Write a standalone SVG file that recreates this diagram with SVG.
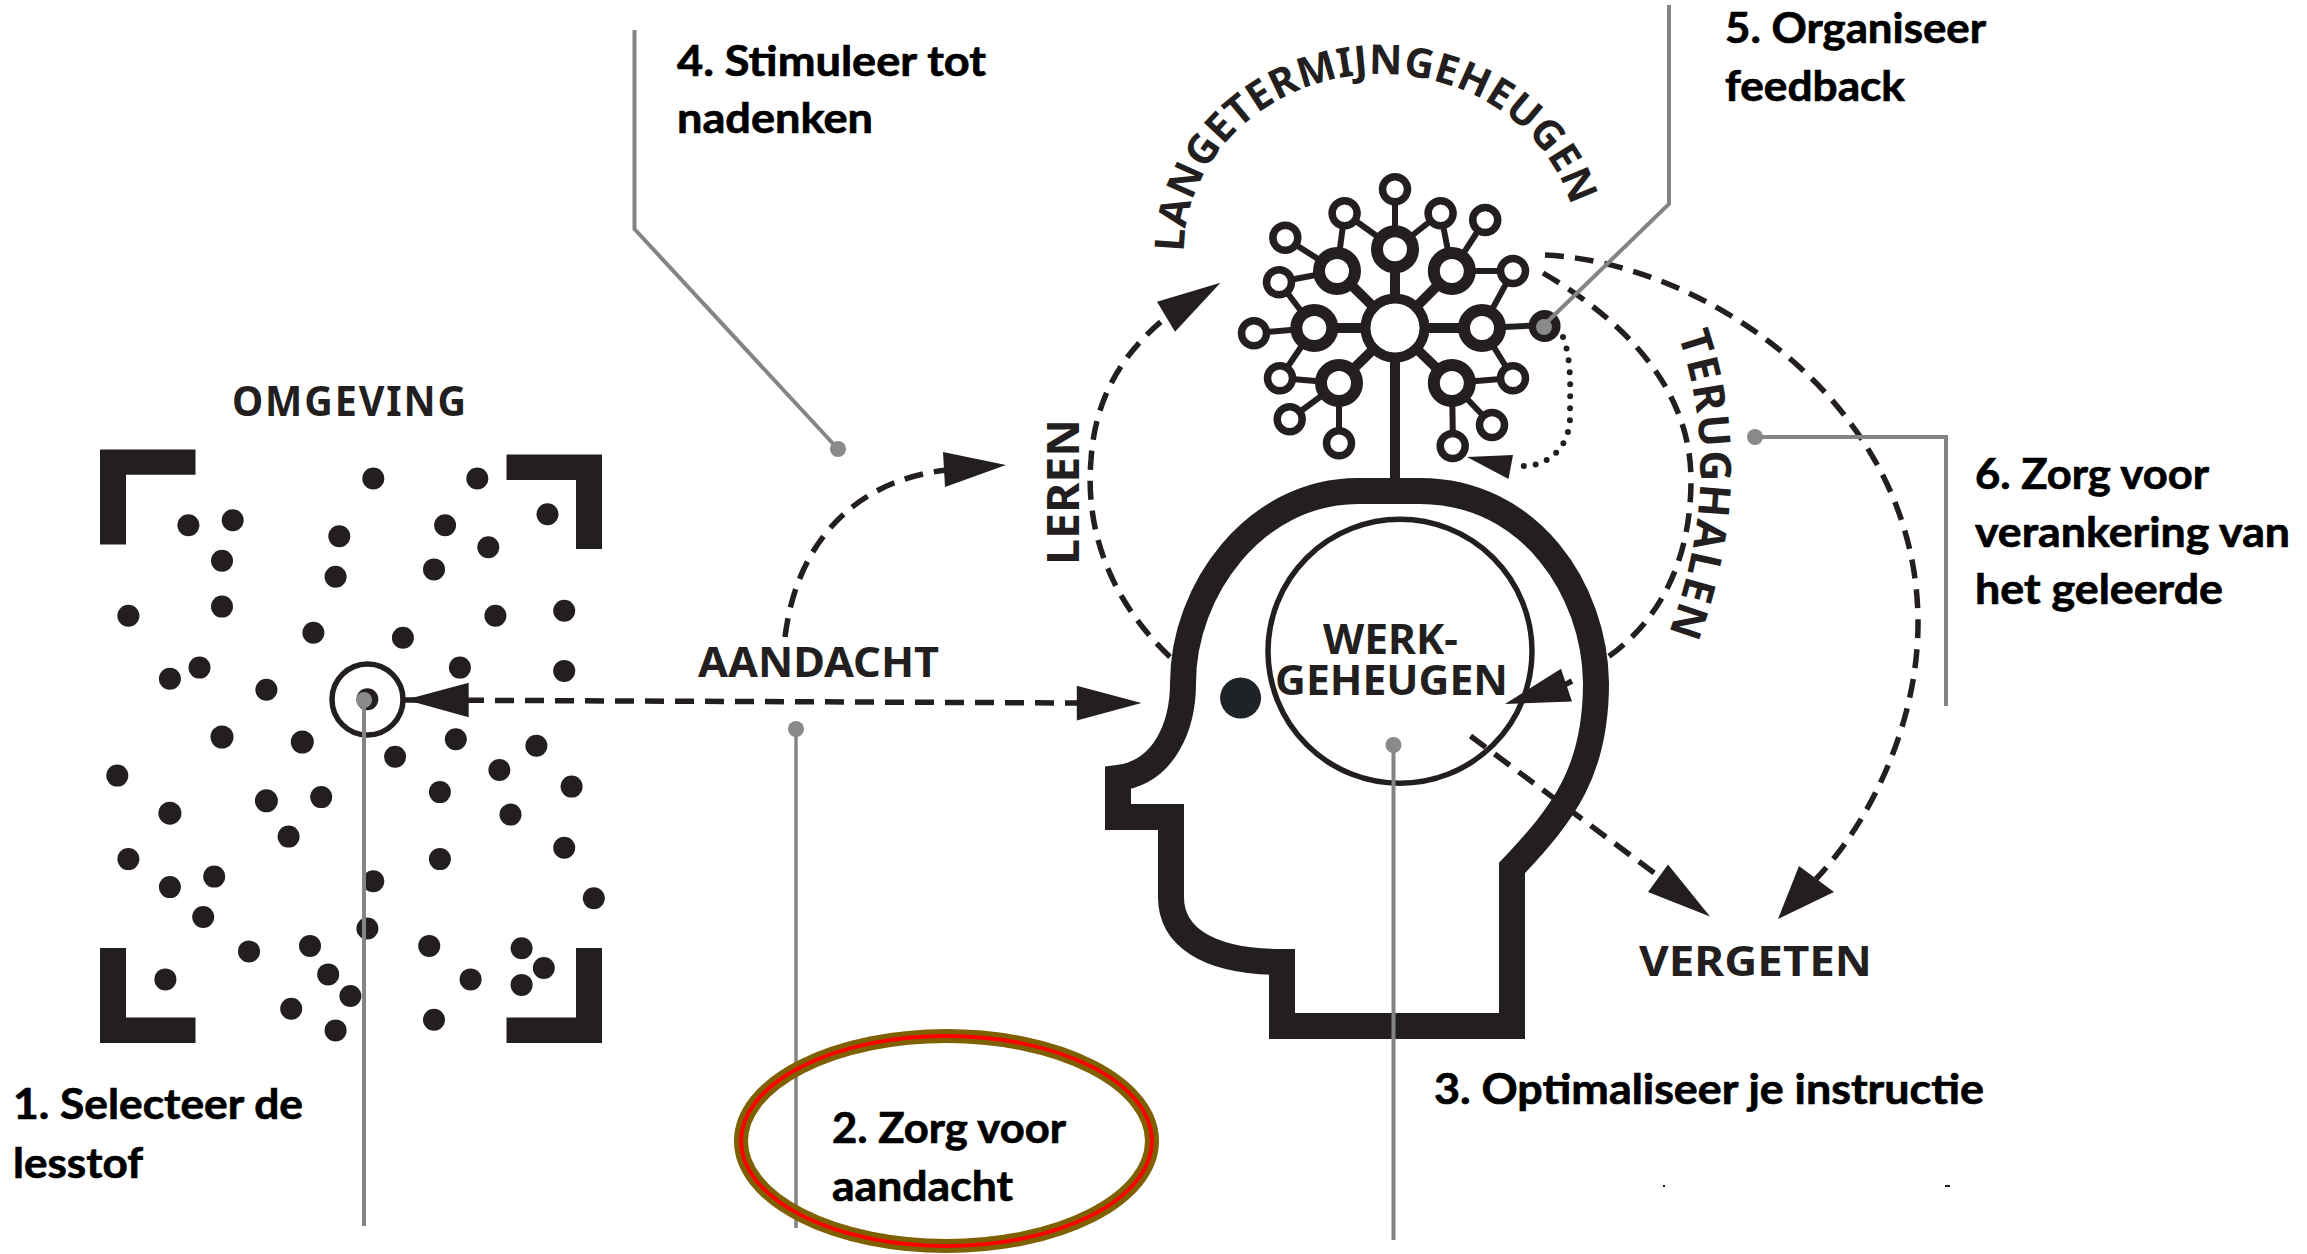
<svg xmlns="http://www.w3.org/2000/svg" width="2307" height="1254" viewBox="0 0 2307 1254">
<style>
text{font-family:"Noto Sans","Liberation Sans",sans-serif;font-weight:700;fill:#231f20}
.lab{font-size:42px;letter-spacing:2px}
.note{font-family:Lato,"Liberation Sans",sans-serif;font-weight:700;font-size:42px;fill:#000;stroke:#000;stroke-width:.7}
.k{fill:#231f20}
.dash{fill:none;stroke:#231f20;stroke-width:5.500;stroke-dasharray:19 11}
.dot{fill:none;stroke:#231f20;stroke-width:6;stroke-linecap:round;stroke-dasharray:0 12}
.g{fill:none;stroke:#848484;stroke-width:4}
.gd{fill:#8a8a8a}
.l1{stroke:#231f20;stroke-width:6}
.l2{stroke:#231f20;stroke-width:10}
.n1{fill:#fff;stroke:#231f20;stroke-width:7.500}
.n2{fill:#fff;stroke:#231f20;stroke-width:12}
</style>
<rect width="2307" height="1254" fill="#fff"/>
<g id="omgeving">
<text class="lab" x="232" y="416" textLength="236" lengthAdjust="spacingAndGlyphs">OMGEVING</text>
<path class="k" d="M100 449.500H195.500V474.800H126V544.600H100ZM506.500 454.600H602V549H576V480H506.500ZM100 948H126V1017.500H195.500V1043H100ZM576 948H602V1043H506.500V1017.500H576Z"/>
<g class="k">
<circle cx="373.300" cy="478.500" r="11"/><circle cx="477.300" cy="478.500" r="11"/><circle cx="547.500" cy="514.300" r="11"/><circle cx="188.400" cy="525.300" r="11"/><circle cx="232.700" cy="520.300" r="11"/><circle cx="339.300" cy="536.300" r="11"/><circle cx="445.100" cy="525.300" r="11"/><circle cx="488.300" cy="547.300" r="11"/><circle cx="222" cy="560.700" r="11"/><circle cx="335.600" cy="576.700" r="11"/><circle cx="434" cy="569.400" r="11"/><circle cx="128.400" cy="615.800" r="11"/><circle cx="222" cy="606.600" r="11"/><circle cx="495.400" cy="615.800" r="11"/><circle cx="564.200" cy="610.700" r="11"/><circle cx="313.400" cy="632.800" r="11"/><circle cx="402.900" cy="637.800" r="11"/><circle cx="199.500" cy="667.600" r="11"/><circle cx="169.900" cy="678.700" r="11"/><circle cx="266.400" cy="689.700" r="11"/><circle cx="459.900" cy="667.600" r="11"/><circle cx="564.200" cy="670.900" r="11"/><circle cx="367.400" cy="699.300" r="11"/><circle cx="222" cy="737" r="11.500"/><circle cx="302.300" cy="742" r="11.500"/><circle cx="455.800" cy="739.300" r="11"/><circle cx="536.400" cy="745.700" r="11"/><circle cx="395.100" cy="756.700" r="11"/><circle cx="117.300" cy="775.600" r="11"/><circle cx="499.400" cy="770" r="11"/><circle cx="571.600" cy="786.600" r="11"/><circle cx="439.900" cy="792.100" r="11"/><circle cx="169.900" cy="813.200" r="11.500"/><circle cx="266.400" cy="800.800" r="11.500"/><circle cx="321.200" cy="797.100" r="11"/><circle cx="510.500" cy="814.600" r="11"/><circle cx="288.600" cy="836.600" r="11"/><circle cx="128.400" cy="859.100" r="11"/><circle cx="439.900" cy="859.100" r="11"/><circle cx="564.200" cy="847.700" r="11"/><circle cx="169.900" cy="887.100" r="11"/><circle cx="214.200" cy="876.600" r="11"/><circle cx="373.300" cy="881.200" r="11"/><circle cx="203.200" cy="917" r="11"/><circle cx="593.800" cy="898.200" r="11"/><circle cx="249" cy="951.400" r="11"/><circle cx="310" cy="945.900" r="11"/><circle cx="367.400" cy="928.500" r="11"/><circle cx="429.200" cy="945.900" r="11"/><circle cx="521.600" cy="948.200" r="11"/><circle cx="543.800" cy="968" r="11"/><circle cx="165.400" cy="979.400" r="11"/><circle cx="328.200" cy="974.400" r="11"/><circle cx="470.600" cy="979.400" r="11"/><circle cx="521.600" cy="984.900" r="11"/><circle cx="350.400" cy="996" r="11"/><circle cx="291.200" cy="1008.800" r="11"/><circle cx="335.600" cy="1030.400" r="11"/><circle cx="434" cy="1019.800" r="11"/>
</g>
<circle cx="367.500" cy="699.500" r="35.500" fill="none" stroke="#231f20" stroke-width="5.500"/>
</g>
<g id="hoofd">
<path d="M1282 1026H1512V868C1565 812 1596 770 1596 683C1595 590 1530 491 1420 491H1358C1255 491 1183 590 1183 683C1183 725 1165 772 1118 778V817H1171V897C1171 935 1205 962 1282 962Z" fill="none" stroke="#231f20" stroke-width="26" stroke-linejoin="miter" stroke-miterlimit="3"/>
<circle cx="1240.600" cy="698" r="20.500" fill="#1f2226"/>
</g>
<g id="werkgeheugen">
<circle cx="1400" cy="651.300" r="132" fill="none" stroke="#231f20" stroke-width="5.500"/>
<text x="1323" y="654" font-size="42" textLength="135" lengthAdjust="spacingAndGlyphs">WERK-</text>
<text x="1275" y="695" font-size="42" textLength="233" lengthAdjust="spacingAndGlyphs">GEHEUGEN</text>
</g>
<g id="langetermijngeheugen">
<line class="l2" x1="1395" y1="330" x2="1395" y2="491"/>
<g class="l1">
<line x1="1395" y1="189" x2="1395" y2="249"/><line x1="1344.600" y1="213" x2="1395" y2="249"/><line x1="1440.600" y1="213" x2="1395" y2="249"/><line x1="1344.600" y1="213" x2="1337" y2="271"/><line x1="1285" y1="238" x2="1337" y2="271"/><line x1="1279" y1="282" x2="1337" y2="271"/><line x1="1279" y1="282" x2="1314" y2="328"/><line x1="1254" y1="333" x2="1314" y2="328"/><line x1="1280" y1="378" x2="1314" y2="328"/><line x1="1280" y1="378" x2="1339" y2="383"/><line x1="1290" y1="419" x2="1339" y2="383"/><line x1="1339" y1="443" x2="1339" y2="383"/><line x1="1440.600" y1="213" x2="1452" y2="271"/><line x1="1485" y1="220" x2="1452" y2="271"/><line x1="1513" y1="271" x2="1452" y2="271"/><line x1="1513" y1="271" x2="1482" y2="328"/><line x1="1545" y1="325" x2="1482" y2="328"/><line x1="1513" y1="378" x2="1482" y2="328"/><line x1="1513" y1="378" x2="1452" y2="383"/><line x1="1492" y1="425" x2="1452" y2="383"/><line x1="1453" y1="446" x2="1452" y2="383"/>
</g>
<g class="l2">
<line x1="1395" y1="328" x2="1395" y2="249"/><line x1="1395" y1="328" x2="1337" y2="271"/><line x1="1395" y1="328" x2="1452" y2="271"/><line x1="1395" y1="328" x2="1314" y2="328"/><line x1="1395" y1="328" x2="1482" y2="328"/><line x1="1395" y1="328" x2="1339" y2="383"/><line x1="1395" y1="328" x2="1452" y2="383"/>
</g>
<g class="n2">
<circle cx="1395" cy="249.300" r="18"/><circle cx="1337" cy="271" r="18"/><circle cx="1451.800" cy="271" r="18"/><circle cx="1314.300" cy="328" r="18"/><circle cx="1482" cy="328" r="18"/><circle cx="1339" cy="383" r="18"/><circle cx="1451.800" cy="383" r="18"/>
</g>
<circle cx="1395" cy="328" r="29.500" fill="#fff" stroke="#231f20" stroke-width="10"/>
<g class="n1">
<circle cx="1395" cy="189.300" r="12.500"/><circle cx="1344.600" cy="213.300" r="12.500"/><circle cx="1440.600" cy="213.300" r="12.500"/><circle cx="1485.200" cy="220" r="12.500"/><circle cx="1285.300" cy="237.700" r="12.500"/><circle cx="1279" cy="282.300" r="12.500"/><circle cx="1513" cy="271" r="12.500"/><circle cx="1254" cy="333.300" r="12.500"/><circle cx="1280" cy="378.300" r="12.500"/><circle cx="1513" cy="378.300" r="12.500"/><circle cx="1289.700" cy="419.300" r="12.500"/><circle cx="1339" cy="443.300" r="12.500"/><circle cx="1492" cy="425" r="12.500"/><circle cx="1452.700" cy="446" r="12.500"/>
</g>
<circle cx="1544.600" cy="326" r="16" fill="#231f20"/>
<path id="arcL" d="M1184 252A197 178 0 0 1 1578 252" fill="none"/>
<text font-size="41" letter-spacing="0.300"><textPath href="#arcL" startOffset="0">LANGETERMIJNGEHEUGEN</textPath></text>
</g>
<g id="labels">
<text x="698" y="677" font-size="41" textLength="241" lengthAdjust="spacingAndGlyphs">AANDACHT</text>
<text font-size="44" textLength="146" lengthAdjust="spacingAndGlyphs" transform="translate(1079 565) rotate(-90)">LEREN</text>
<path id="arcT" d="M1678 335Q1728 480 1666 640" fill="none"/>
<text font-size="43" letter-spacing="2"><textPath href="#arcT">TERUGHALEN</textPath></text>
<text x="1639" y="976" font-size="41" textLength="233" lengthAdjust="spacingAndGlyphs">VERGETEN</text>
</g>
<g id="connectors">
<path class="dash" d="M405 700L1080 703"/>
<polygon class="k" points="405.500,699.800 468.700,682.800 468.700,717.200"/>
<polygon class="k" points="1141.500,703 1076.800,685.700 1076.800,720.500"/>
<path class="dash" d="M785 637C797 540 857 480 947 470"/>
<polygon class="k" points="1006,465 943,452 945,487"/>
<path class="dash" d="M1170 657C1110 600 1085 530 1091 460C1095 395 1125 350 1168 316"/>
<polygon class="k" points="1220.500,282.700 1157,301.700 1175,331.700"/>
<path class="dash" d="M1543 273C1640 330 1691 400 1691 480C1691 560 1660 620 1608 657"/>
<path class="dash" d="M1572 681L1555 690"/>
<polygon class="k" points="1505,704 1561,668.700 1572,701.500"/>
<path class="dash" d="M1545 255C1700 262 1916 400 1918 620C1919 720 1872 820 1816 879"/>
<polygon class="k" points="1778,919 1799,866 1834,892"/>
<path class="dash" d="M1470.500 736L1657 875"/>
<polygon class="k" points="1710,916.600 1668,864.400 1648,892"/>
<path class="dot" d="M1563 337C1572 360 1570 390 1570 417C1570 445 1550 468 1519 466"/>
<polygon class="k" points="1467,457 1513,455 1508.500,479"/>
</g>
<g id="wijzers">
<path class="g" d="M364 700V1226"/>
<circle class="gd" cx="364" cy="700" r="8"/>
<path class="g" d="M796 729V1228" style="stroke-width:3.500"/>
<circle class="gd" cx="796" cy="729" r="8"/>
<path class="g" d="M1393.500 745V1240"/>
<circle class="gd" cx="1393.500" cy="745" r="8"/>
<path class="g" d="M634.500 30V229L838 449"/>
<circle class="gd" cx="838" cy="449" r="8"/>
<path class="g" d="M1669 5V204L1544 325"/>
<circle class="gd" cx="1544" cy="327" r="8"/>
<path class="g" d="M1755 437H1946V706"/>
<circle class="gd" cx="1755" cy="437" r="8"/>
</g>
<g id="opmerkingen">
<ellipse cx="946.500" cy="1141" rx="205.500" ry="105" fill="none" stroke="#7f6000" stroke-width="14"/>
<ellipse cx="946.500" cy="1141" rx="205.500" ry="105" fill="none" stroke="#f00" stroke-width="4"/>
<text class="note" x="13" y="1119" textLength="290" lengthAdjust="spacingAndGlyphs">1. Selecteer de</text>
<text class="note" x="13" y="1178" textLength="130" lengthAdjust="spacingAndGlyphs">lesstof</text>
<text class="note" x="832" y="1143" textLength="234" lengthAdjust="spacingAndGlyphs">2. Zorg voor</text>
<text class="note" x="832" y="1201" textLength="181" lengthAdjust="spacingAndGlyphs">aandacht</text>
<text class="note" x="1434" y="1104" textLength="550" lengthAdjust="spacingAndGlyphs">3. Optimaliseer je instructie</text>
<text class="note" x="677" y="76" textLength="309" lengthAdjust="spacingAndGlyphs">4. Stimuleer tot</text>
<text class="note" x="677" y="133" textLength="196" lengthAdjust="spacingAndGlyphs">nadenken</text>
<text class="note" x="1725" y="43" textLength="261" lengthAdjust="spacingAndGlyphs">5. Organiseer</text>
<text class="note" x="1725" y="101" textLength="180" lengthAdjust="spacingAndGlyphs">feedback</text>
<text class="note" x="1975" y="489" textLength="234" lengthAdjust="spacingAndGlyphs">6. Zorg voor</text>
<text class="note" x="1975" y="547" textLength="315" lengthAdjust="spacingAndGlyphs">verankering van</text>
<text class="note" x="1975" y="604" textLength="248" lengthAdjust="spacingAndGlyphs">het geleerde</text>
<rect class="k" x="1663" y="1185" width="2" height="2"/>
<rect class="k" x="1945" y="1185" width="5" height="2"/>
</g>
</svg>
